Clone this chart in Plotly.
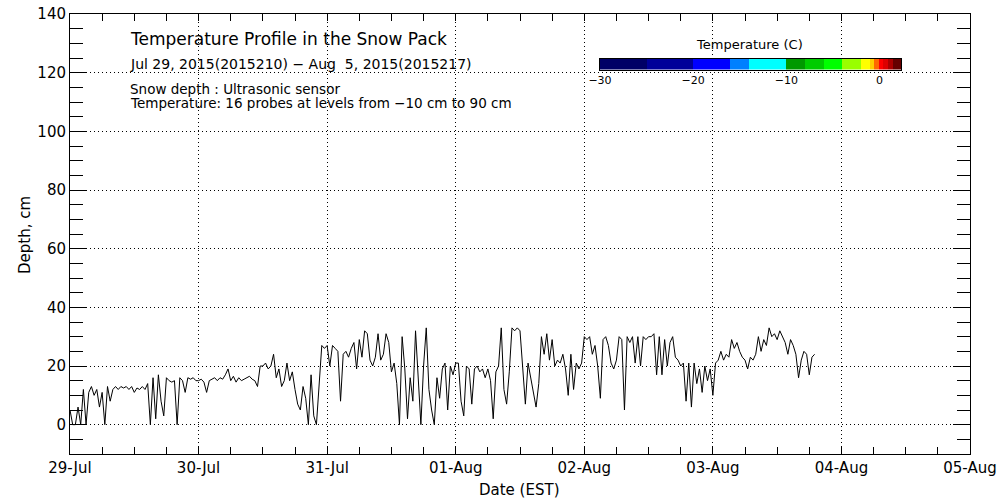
import plotly.graph_objects as go
import pandas as pd

# snow depth (cm), one reading every 30 min starting 29-Jul 00:00
depth_jul29 = [5, 0, 0, 6, 0, 12, 0, 11, 13, 10, 12, 6, 11, 0, 13, 8,
               12, 13, 12, 13, 12.5, 13, 12, 13, 11, 12.5, 12, 13, 12, 14, 0, 16,
               2, 17, 8, 3, 16, 15, 14.5, 15, 0, 16, 15, 11, 16, 15.5, 16, 15]
depth_jul30 = [15, 15.5, 14.5, 11, 15, 15.5, 16, 15, 16, 15.5, 17, 19, 15, 16.5, 14.5, 16,
               15, 15.5, 16, 16.5, 15.5, 15, 13, 20, 20, 21, 19, 20, 24, 16, 19, 13,
               15, 21, 15, 18, 12, 7, 5, 13, 9, 0, 17, 3, 0, 15, 27, 26]
depth_jul31 = [27, 20, 27, 26, 25, 8, 24, 25, 23, 26, 28, 19, 29, 23, 32, 31,
               22, 20, 23, 31, 22, 24, 31, 28, 18, 21, 14, 0, 30, 19, 2, 16,
               8, 32, 14, 0, 20, 33, 12, 5, 0, 16, 9, 19, 21, 5, 20, 17]
depth_aug01 = [21, 21, 8, 3, 20, 19, 7, 19, 20, 18, 19, 16, 19, 15, 2, 18,
               20, 33, 12, 7, 18, 33, 32, 33, 32, 20, 7, 21, 16, 12, 6, 14,
               30, 24, 31, 22, 29, 20, 22, 21, 24, 19, 10, 24, 12, 21, 19, 21]
depth_aug02 = [30, 29, 30, 24, 27, 20, 9, 29, 30, 27, 21, 19, 22, 30, 29, 5,
               30, 28, 30, 21, 30, 20, 30, 29, 30, 30, 31, 17, 30, 17, 29, 20,
               28, 30, 23, 22, 20, 21, 8, 21, 6, 21, 14, 19, 11, 20, 15, 19]
depth_aug03 = [10, 21, 22, 25, 22, 24, 23, 29, 26, 28, 25, 23, 22, 19, 23, 22,
               24, 30, 25, 29, 27, 33, 30, 31, 29, 32, 30, 28, 24, 29, 27, 24,
               16, 22, 25, 24, 17, 23, 24]

day_ticks = ["2015-07-29", "2015-07-30", "2015-07-31", "2015-08-01",
             "2015-08-02", "2015-08-03", "2015-08-04", "2015-08-05"]
day_labels = ["29-Jul", "30-Jul", "31-Jul", "01-Aug", "02-Aug", "03-Aug", "04-Aug", "05-Aug"]

# temperature colour bar levels and colours
temp_edges = [-30, -25, -20, -16, -14, -10, -8, -6, -4, -2, -1, -0.6, -0.1, 0.4, 0.9, 1.4, 2.3]
temp_colors = ["#000066", "#000099", "#0000ff", "#0080ff", "#00ffff", "#009900", "#00cc00",
               "#00ff00", "#99ff00", "#ffff00", "#ffcc00", "#ff6600", "#ff0000", "#dd0000",
               "#aa0000", "#660000"]
temp_ticks = [-30, -20, -10, 0]

depth = depth_jul29 + depth_jul30 + depth_jul31 + depth_aug01 + depth_aug02 + depth_aug03
times = pd.date_range("2015-07-29 00:00", periods=len(depth), freq="30min")

FONT = "DejaVu Sans"
L, T, W, H = 70, 14, 900, 440


def px(x):
    return (x - L) / W


def py(y):
    return (T + H - y) / H


fig = go.Figure()
fig.add_trace(go.Scatter(x=times, y=depth, mode="lines",
                         line=dict(color="black", width=1), showlegend=False))

widths = [temp_edges[i + 1] - temp_edges[i] for i in range(len(temp_colors))]
fig.add_trace(go.Bar(y=[0.5] * len(temp_colors), x=widths, base=temp_edges[:-1],
                     orientation="h", width=1, marker=dict(color=temp_colors, line=dict(width=0)),
                     xaxis="x2", yaxis="y2", showlegend=False))

grid = dict(showgrid=True, gridcolor="black", griddash="1px,3px", gridwidth=1)

fig.update_layout(
    width=1000, height=500,
    margin=dict(l=L, r=1000 - L - W, t=T, b=500 - T - H),
    paper_bgcolor="white", plot_bgcolor="white",
    font=dict(family=FONT, size=15, color="black"),
    xaxis=dict(type="date", range=["2015-07-29", "2015-08-05"], automargin=False,
               ticklabeloverflow="allow",
               tickvals=day_ticks, ticktext=day_labels,
               ticks="inside", ticklen=7, tickcolor="black",
               minor=dict(dtick=6 * 3600 * 1000, ticks="inside", ticklen=7, tickcolor="black", showgrid=False),
               showline=True, linecolor="black", linewidth=1, mirror="ticks",
               zeroline=False, **grid),
    yaxis=dict(range=[-10, 140], tick0=0, dtick=20, automargin=False,
               ticklabeloverflow="allow",
               ticks="inside", ticklen=17, tickcolor="black",
               minor=dict(dtick=5, ticks="inside", ticklen=13, tickcolor="black", showgrid=False),
               showline=True, linecolor="black", linewidth=1, mirror="ticks",
               zeroline=False, **grid),
    xaxis2=dict(domain=[px(600), px(901)], anchor="y2", range=[-30, 2.3], automargin=False,
                tickvals=temp_ticks, ticks="", tickfont=dict(size=11),
                showgrid=False, zeroline=False, fixedrange=True,
                showline=True, linecolor="black", mirror=True),
    yaxis2=dict(domain=[py(69.5), py(59)], anchor="x2", range=[0, 1], automargin=False,
                showticklabels=False, ticks="", showgrid=False, zeroline=False,
                showline=True, linecolor="black", mirror=True),
    bargap=0,
)

notes = [
    ("Temperature Profile in the Snow Pack", 128, 39, 17),
    ("Jul 29, 2015(2015210) \u2212 Aug&nbsp; 5, 2015(2015217)", 128, 64, 14),
    ("Snow depth : Ultrasonic sensor", 128, 89, 13.5),
    ("Temperature: 16 probes at levels from \u221210 cm to 90 cm", 128, 103, 13.5),
]
for text, x, y, size in notes:
    fig.add_annotation(text=text, xref="paper", yref="paper", x=px(x), y=py(y),
                       xanchor="left", yanchor="middle", showarrow=False,
                       font=dict(size=size))

fig.add_annotation(text="Temperature (C)", xref="paper", yref="paper",
                   x=px(749), y=py(45), xanchor="center", yanchor="middle",
                   showarrow=False, font=dict(size=13))
fig.add_annotation(text="Date (EST)", xref="paper", yref="paper",
                   x=px(519), y=py(490), xanchor="center", yanchor="middle",
                   showarrow=False, font=dict(size=15))
fig.add_annotation(text="Depth, cm", xref="paper", yref="paper",
                   x=px(25), y=py(235), textangle=-90, xanchor="center", yanchor="middle",
                   showarrow=False, font=dict(size=15))

# drop the default page margin so the 1000x500 figure fills the window exactly
fig.write_html("out.html", config={"displayModeBar": False},
               post_script="document.body.style.margin = '0';")
